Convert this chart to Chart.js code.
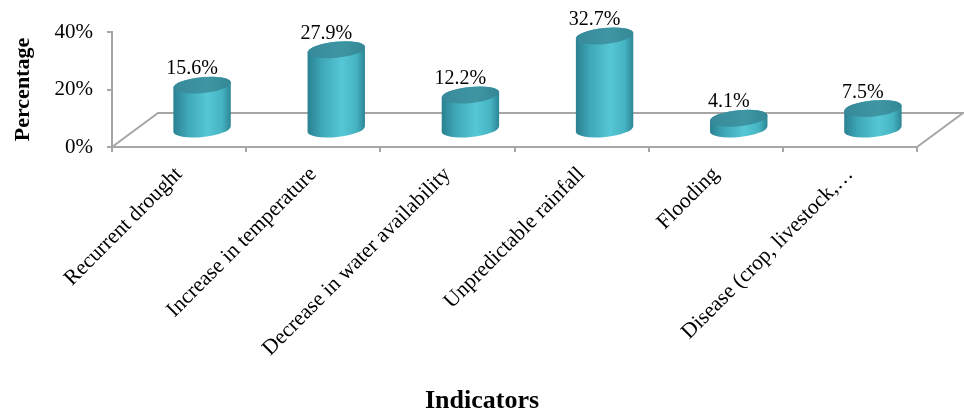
<!DOCTYPE html>
<html>
<head>
<meta charset="utf-8">
<script src="https://cdn.jsdelivr.net/npm/chart.js@4.4.0/dist/chart.umd.min.js"></script>
<style>
  html, body { margin: 0; padding: 0; background: #fff; }
  canvas { display: block; }
</style>
</head>
<body>
<canvas id="chart" width="964" height="414"></canvas>
<script>
const indicators = ['Recurrent drought', 'Increase in temperature', 'Decrease in water availability',
  'Unpredictable rainfall', 'Flooding', 'Disease (crop, livestock,…'];
const percentages = [15.6, 27.9, 12.2, 32.7, 4.1, 7.5];
const tickValues = [0, 20, 40];

const serif = "'Liberation Serif', 'Times New Roman', serif";
const axisGray = '#a6a6a6';
// depth of the fake 3D floor (back edge offset)
const depthX = 46;
const depthY = 34;

// floor outline behind the cylinders
const floorPlugin = {
  id: 'floor',
  beforeDatasetsDraw(chart) {
    const {ctx, chartArea: a} = chart;
    ctx.save();
    ctx.strokeStyle = axisGray;
    ctx.lineWidth = 2;
    ctx.beginPath();
    ctx.moveTo(a.left, a.bottom);
    ctx.lineTo(a.left + depthX, a.bottom - depthY);
    ctx.lineTo(a.right + depthX, a.bottom - depthY);
    ctx.lineTo(a.right, a.bottom);
    ctx.stroke();
    ctx.restore();
  }
};

// draws each bar as a cylinder sitting in the middle of the floor depth
const cylinderPlugin = {
  id: 'cylinders',
  afterDatasetsDraw(chart) {
    const {ctx} = chart;
    const meta = chart.getDatasetMeta(0);
    const tilt = -0.1;
    meta.data.forEach((bar, i) => {
      const rx = bar.width / 2;
      const ry = 8;
      const cx = bar.x + depthX / 2;
      const top = bar.y - depthY / 2;
      const base = bar.base - depthY / 2;
      const ox = rx * Math.cos(tilt), oy = rx * Math.sin(tilt);
      ctx.save();
      const body = ctx.createLinearGradient(cx - rx, 0, cx + rx, 0);
      body.addColorStop(0, '#2a8090');
      body.addColorStop(0.25, '#3ea8b8');
      body.addColorStop(0.6, '#56c7d6');
      body.addColorStop(0.85, '#45b3c2');
      body.addColorStop(1, '#2c8594');
      ctx.fillStyle = body;
      ctx.beginPath();
      ctx.moveTo(cx - ox, top - oy);
      ctx.lineTo(cx - ox, base - oy);
      ctx.ellipse(cx, base, rx, ry, tilt, Math.PI, 0, true);
      ctx.lineTo(cx + ox, top + oy);
      ctx.ellipse(cx, top, rx, ry, tilt, 0, Math.PI, true);
      ctx.closePath();
      ctx.fill();

      const cap = ctx.createLinearGradient(cx - rx, top, cx + rx, top);
      cap.addColorStop(0, '#37899a');
      cap.addColorStop(0.6, '#3f96a3');
      cap.addColorStop(1, '#358795');
      ctx.fillStyle = cap;
      ctx.beginPath();
      ctx.ellipse(cx, top, rx, ry, tilt, 0, Math.PI * 2);
      ctx.fill();

      ctx.fillStyle = '#000';
      ctx.font = '20px ' + serif;
      ctx.textAlign = 'center';
      ctx.textBaseline = 'middle';
      ctx.fillText(percentages[i].toFixed(1) + '%', cx - 10, top - 16);
      ctx.restore();
    });
  }
};

new Chart(document.getElementById('chart'), {
  type: 'bar',
  data: {
    labels: indicators,
    datasets: [{
      data: percentages,
      backgroundColor: 'rgba(0,0,0,0)',
      borderWidth: 0,
      barPercentage: 0.43,
      categoryPercentage: 1
    }]
  },
  options: {
    responsive: false,
    animation: false,
    devicePixelRatio: 1,
    layout: { padding: { top: 32, right: 0, left: 0, bottom: 0 } },
    plugins: {
      legend: { display: false },
      tooltip: { enabled: false },
      title: {
        display: true,
        position: 'bottom',
        text: 'Indicators',
        color: '#000',
        padding: 0,
        font: { family: serif, size: 26, weight: 'bold', lineHeight: 1 }
      }
    },
    scales: {
      x: {
        offset: true,
        grid: { drawOnChartArea: false, offset: true, color: axisGray, lineWidth: 2, tickLength: 5 },
        border: { color: axisGray, width: 2 },
        ticks: {
          autoSkip: false, minRotation: 45, maxRotation: 45, padding: 10,
          color: '#000', font: { family: serif, size: 21.5 }
        },
        afterFit(scale) { scale.height = 241; }
      },
      y: {
        min: 0,
        max: 40,
        afterBuildTicks(scale) { scale.ticks = tickValues.map(v => ({ value: v })); },
        grid: { drawOnChartArea: false, color: axisGray, lineWidth: 2, tickLength: 5 },
        border: { color: axisGray, width: 2 },
        ticks: {
          padding: 14, color: '#000', font: { family: serif, size: 21 },
          callback: v => v + '%'
        },
        title: {
          display: true,
          text: 'Percentage',
          color: '#000',
          padding: { top: 10, bottom: 0 },
          font: { family: serif, size: 22, weight: 'bold' }
        },
        afterFit(scale) { scale.width = 112; }
      },
      // empty right-hand axis: only reserves room for the floor's depth
      depth: {
        type: 'linear',
        position: 'right',
        grid: { display: false },
        border: { display: false },
        ticks: { display: false },
        afterFit(scale) { scale.width = 47; }
      }
    }
  },
  plugins: [floorPlugin, cylinderPlugin]
});
</script>
</body>
</html>
